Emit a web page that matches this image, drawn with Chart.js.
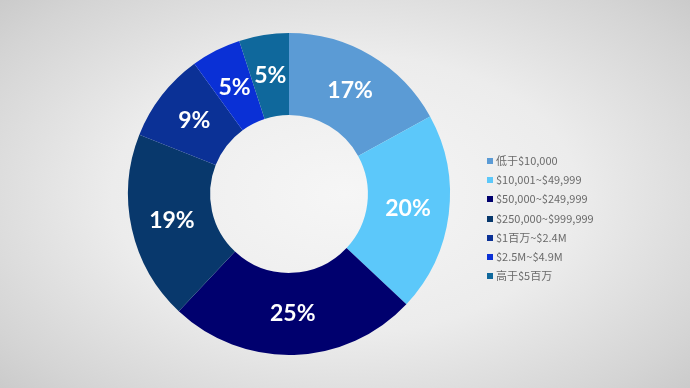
<!DOCTYPE html>
<html>
<head>
<meta charset="utf-8">
<script src="https://cdn.jsdelivr.net/npm/chart.js@4"></script>
<style>
  html, body { margin: 0; padding: 0; }
  body {
    width: 690px; height: 388px; overflow: hidden; position: relative;
    background: radial-gradient(ellipse 75% 80% at 50% 50%, #f6f6f6 0%, #ececec 45%, #d4d4d4 80%, #c4c4c4 100%);
  }
  #wrap { position: absolute; left: 0; top: 0; width: 578px; height: 388px; }
  #legend { position: absolute; left: 487px; top: 151px; margin: 0; padding: 0; list-style: none;
    font-family: "Liberation Sans Narrow", "Noto Sans CJK SC", sans-serif; font-size: 11px; color: #6a6a6a; }
  #legend li { height: 19.2px; line-height: 19.2px; white-space: nowrap; }
  #legend span { display: inline-block; width: 6px; height: 6px; margin-right: 3px; vertical-align: 1px; }
</style>
</head>
<body>
<div id="wrap"><canvas id="donut"></canvas></div>
<ul id="legend"></ul>
<script>
// income brackets and their share (%)
const labels = ['低于$10,000', '$10,001~$49,999', '$50,000~$249,999', '$250,000~$999,999', '$1百万~$2.4M', '$2.5M~$4.9M', '高于$5百万'];
const shares = [17, 20, 25, 19, 9, 5, 5];
const colors = ['#5b9bd5', '#5cc8fa', '#00006e', '#08386c', '#0b3196', '#0a30d6', '#0f689c'];

// draws "17%" etc. in the middle of each slice
const sliceLabels = {
    id: 'sliceLabels',
    afterDatasetsDraw(chart) {
        const ctx = chart.ctx;
        const meta = chart.getDatasetMeta(0);
        ctx.save();
        ctx.fillStyle = '#ffffff';
        ctx.font = 'bold 23px Lato, sans-serif';
        ctx.textAlign = 'center';
        ctx.textBaseline = 'middle';
        meta.data.forEach((arc, i) => {
            const p = arc.tooltipPosition();
            ctx.fillText(shares[i] + '%', p.x, p.y);
        });
        ctx.restore();
    }
};

new Chart(document.getElementById('donut'), {
    type: 'doughnut',
    data: {
        labels: labels,
        datasets: [{ data: shares, backgroundColor: colors, borderWidth: 0 }]
    },
    options: {
        responsive: true, maintainAspectRatio: false,
        animation: false,
        cutout: '49%',
        layout: { padding: { top: 33, bottom: 33 } },
        plugins: { legend: { display: false }, tooltip: { enabled: false } }
    },
    plugins: [sliceLabels]
});

// legend list
const ul = document.getElementById('legend');
labels.forEach((l, i) => {
    const li = document.createElement('li');
    li.innerHTML = '<span style="background:' + colors[i] + '"></span>' + l;
    ul.appendChild(li);
});
</script>
</body>
</html>
